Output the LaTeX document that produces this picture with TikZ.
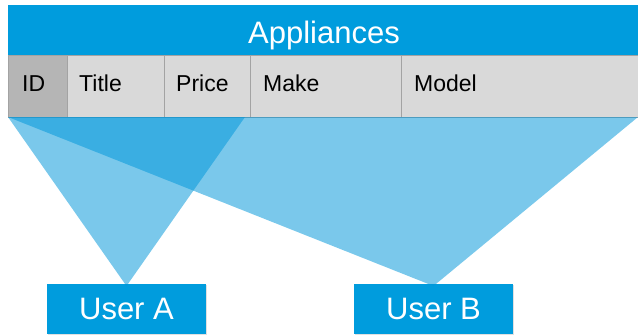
\documentclass[tikz,border=0pt]{standalone}
\usepackage{fontspec}
\setmainfont{Liberation Sans}
\usetikzlibrary{shadows}
\definecolor{hdrblue}{HTML}{009CDD}
\definecolor{cellgray}{HTML}{D9D9D9}
\definecolor{keygray}{HTML}{B5B5B5}
\definecolor{linegray}{HTML}{A3A3A3}
\definecolor{fanblue}{HTML}{0096D9}
\begin{document}
\begin{tikzpicture}[x=1pt,y=-1pt,
  cell/.style={draw=linegray,line width=0.8pt,fill=cellgray,minimum height=62pt,
    inner sep=0pt,outer sep=0pt,font=\fontsize{23}{26}\selectfont,text=black},
  header/.style={fill=hdrblue,text=white,inner sep=0pt,outer sep=0pt,
    font=\fontsize{31}{34}\selectfont},
  userbox/.style={fill=hdrblue,text=white,minimum width=159pt,minimum height=50pt,
    inner sep=0pt,outer sep=0pt,font=\fontsize{31}{34}\selectfont,
    drop shadow={shadow xshift=0.8pt,shadow yshift=-0.8pt,opacity=0.2,fill=black!60}},
  fan/.style={fill=fanblue,fill opacity=0.52}]
\useasboundingbox (0,0) rectangle (638,335);
% table title bar
\node[header,minimum width=630pt,minimum height=50pt,anchor=north west] (title) at (8,5) {};
\node[header,anchor=base] (titletext) at (324,43) {Appliances};
% column cells
\node[cell,fill=keygray,minimum width=59pt,anchor=north west] (id) at (8,55) {};
\node[cell,minimum width=97pt,anchor=north west] (ttl) at (67,55) {};
\node[cell,minimum width=86pt,anchor=north west] (price) at (164,55) {};
\node[cell,minimum width=151pt,anchor=north west] (make) at (250,55) {};
\node[cell,minimum width=237pt,anchor=north west] (model) at (401,55) {};
\foreach \n/\t/\x in {id/ID/22,ttl/Title/79,price/Price/176,make/Make/263,model/Model/414}
  \node[anchor=base west,inner sep=0pt,font=\fontsize{23}{26}\selectfont] (\n-label) at (\x,91) {\t};
% users
\node[userbox,anchor=north west] (userA) at (47,284) {User A};
\node[userbox,anchor=north west] (userB) at (354,284) {User B};
\coordinate (apexA) at ([yshift=-2pt]userA.north);
\coordinate (apexB) at ([yshift=-2pt]userB.north);
% fans from the columns each user sees
\fill[fan] (id.south west) -- ([xshift=-5pt]price.south east) -- (apexA) -- cycle;
\fill[fan] (id.south west) -- (model.south east) -- (apexB) -- cycle;
\end{tikzpicture}
\end{document}
